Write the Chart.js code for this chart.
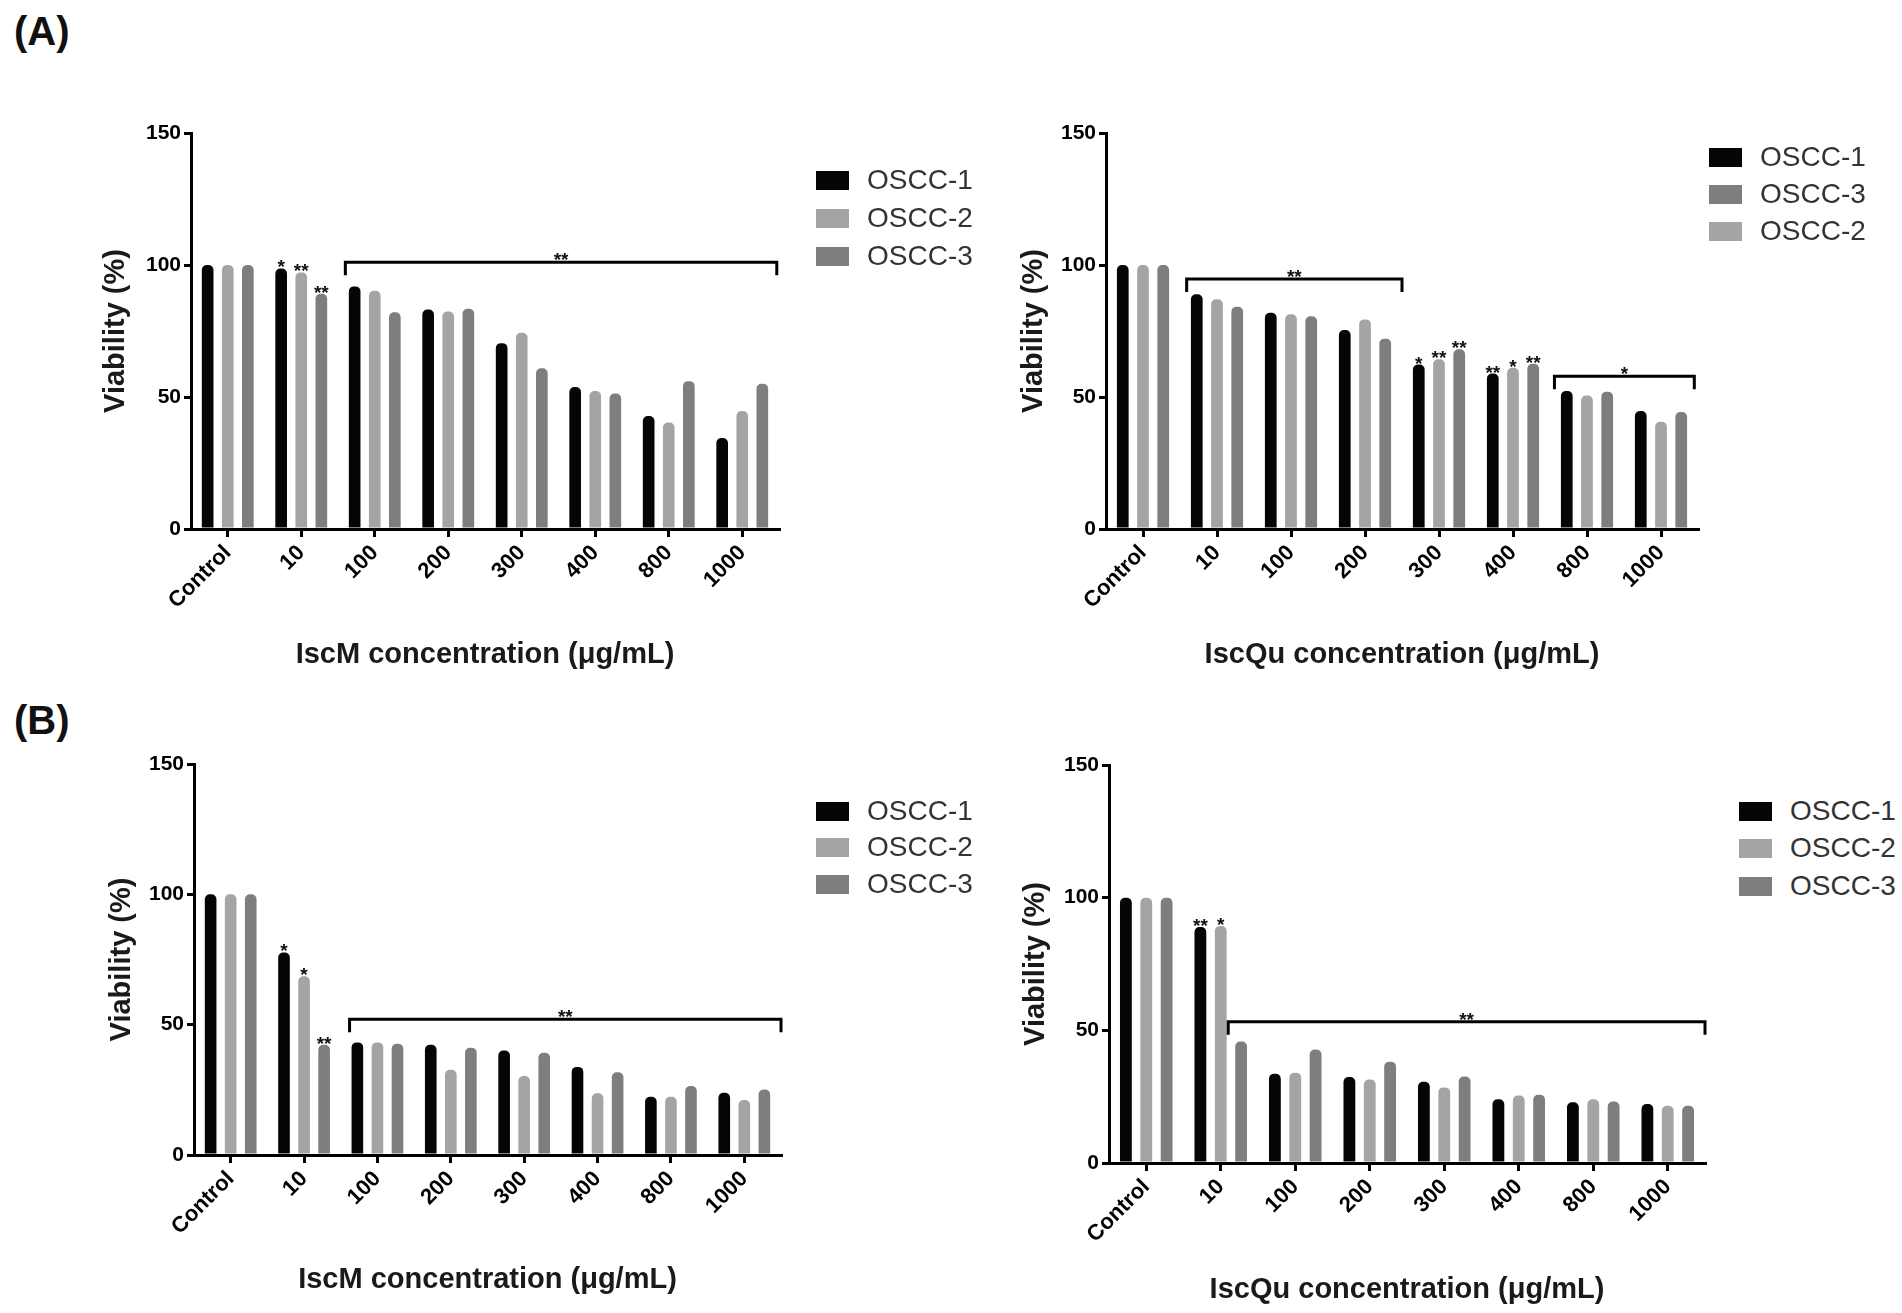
<!DOCTYPE html>
<html>
<head>
<meta charset="utf-8">
<title>Viability of OSCC cells</title>
<script src="https://cdn.jsdelivr.net/npm/chart.js@4.4.1/dist/chart.umd.min.js"></script>
<style>
  body { margin: 0; background: #fff; }
  #page { position: relative; width: 1902px; height: 1313px; overflow: hidden; background: #fff;
          font-family: "Liberation Sans", Arial, sans-serif; }
  canvas { position: absolute; }
  .tag { position: absolute; font-size: 40px; font-weight: bold; line-height: 1; color: #111; }
  .key { position: absolute; height: 30px; display: flex; align-items: center; white-space: nowrap;
         font-size: 28px; color: #333; }
  .key span { display: inline-block; width: 33px; height: 19px; margin-right: 18px; }
</style>
</head>
<body>
<div id="page">
  <div class="tag" style="left:14px; top:11px;">(A)</div>
  <div class="tag" style="left:14px; top:700px;">(B)</div>
  <canvas id="aIscM"></canvas>
  <canvas id="aIscQu"></canvas>
  <canvas id="bIscM"></canvas>
  <canvas id="bIscQu"></canvas>
</div>
<script>
// concentrations (µg/mL) and y ticks
var categories = ['Control', '10', '100', '200', '300', '400', '800', '1000'];
var yTicks = [0, 50, 100, 150];

// (A) IscM
var aIscM1 = [100, 98.7, 91.9, 83.1, 70.4, 53.8, 42.8, 34.5];
var aIscM2 = [100, 97.2, 90.2, 82.4, 74.3, 52.3, 40.3, 44.7];
var aIscM3 = [100, 89.1, 82.1, 83.4, 60.9, 51.3, 56.0, 55.0];
// (A) IscQu
var aIscQu1 = [100, 88.9, 81.9, 75.4, 62.3, 58.9, 52.3, 44.7];
var aIscQu2 = [100, 87.0, 81.3, 79.4, 64.3, 61.1, 50.6, 40.6];
var aIscQu3 = [100, 84.2, 80.6, 72.1, 68.1, 62.6, 52.0, 44.3];
// (B) IscM
var bIscM1 = [100, 77.7, 43.2, 42.3, 40.1, 33.8, 22.3, 23.9];
var bIscM2 = [100, 68.6, 43.2, 32.7, 30.3, 23.7, 22.3, 21.1];
var bIscM3 = [100, 42.3, 42.7, 41.1, 39.2, 31.7, 26.5, 25.1];
// (B) IscQu
var bIscQu1 = [100, 88.9, 33.6, 32.4, 30.6, 24.0, 22.9, 22.2];
var bIscQu2 = [100, 89.3, 34.0, 31.5, 28.5, 25.4, 24.0, 21.6];
var bIscQu3 = [100, 45.8, 42.8, 38.2, 32.6, 25.7, 23.2, 21.6];

// significance marks: [category index, series index, text]
var aIscMStars = [[1, 0, '*'], [1, 1, '**'], [1, 2, '**']];
var aIscQuStars = [[4, 0, '*'], [4, 1, '**'], [4, 2, '**'], [5, 0, '**'], [5, 1, '*'], [5, 2, '**']];
var bIscMStars = [[1, 0, '*'], [1, 1, '*'], [1, 2, '**']];
var bIscQuStars = [[1, 0, '**'], [1, 1, '*']];
// brackets: [from index, to index, level (%), text]
var aIscMBrackets = [[1.6, 7.47, 101, '**']];
var aIscQuBrackets = [[0.59, 3.5, 94.7, '**'], [5.56, 7.45, 57.9, '*']];
var bIscMBrackets = [[1.62, 7.5, 52.1, '**']];
var bIscQuBrackets = [[1.1, 7.5, 53.2, '**']];

var FONT = '"Liberation Sans", Arial, sans-serif';
var colors = { 'OSCC-1': '#050505', 'OSCC-2': '#a4a4a4', 'OSCC-3': '#7e7e7e' };

var sigMarks = {
  id: 'sigMarks',
  afterDatasetsDraw: function (chart, args, opts) {
    var ctx = chart.ctx, x = chart.scales.x, y = chart.scales.y;
    ctx.save();
    ctx.fillStyle = '#111';
    ctx.strokeStyle = '#000';
    ctx.lineWidth = 3;
    ctx.font = 'bold 19px ' + FONT;
    ctx.textAlign = 'center';
    ctx.textBaseline = 'alphabetic';
    (opts.stars || []).forEach(function (s) {
      var bar = chart.getDatasetMeta(s[1]).data[s[0]];
      ctx.fillText(s[2], bar.x, bar.y + 5);
    });
    (opts.brackets || []).forEach(function (b) {
      var x1 = x.getPixelForValue(b[0]), x2 = x.getPixelForValue(b[1]);
      var yl = y.getPixelForValue(b[2]);
      ctx.beginPath();
      ctx.moveTo(x1, yl + 13);
      ctx.lineTo(x1, yl);
      ctx.lineTo(x2, yl);
      ctx.lineTo(x2, yl + 13);
      ctx.stroke();
      ctx.fillText(b[3], (x1 + x2) / 2, yl + 4);
    });
    ctx.restore();
  }
};

function buildPanel(p) {
  var titleSize = 29, lh = titleSize * 1.2;
  var padLeft = p.yTitleX - p.box.left - lh / 2;
  var yWidth = p.area.left - p.box.left - padLeft;
  var padTop = p.area.top - p.box.top;
  var padRight = p.box.left + p.box.width - p.area.right;
  var padBottom = p.box.height - (p.xTitleY - p.box.top) - lh / 2;
  var xHeight = p.box.height - padBottom - (p.area.bottom - p.box.top);

  var cv = document.getElementById(p.id);
  cv.width = p.box.width;
  cv.height = p.box.height;
  cv.style.left = p.box.left + 'px';
  cv.style.top = p.box.top + 'px';

  var datasets = p.series.map(function (s) {
    return {
      label: s.label,
      data: s.data,
      backgroundColor: colors[s.label],
      borderWidth: 0,
      borderRadius: { topLeft: 5, topRight: 5 },
      borderSkipped: 'start',
      categoryPercentage: 0.82,
      barPercentage: 0.58
    };
  });

  new Chart(cv.getContext('2d'), {
    type: 'bar',
    data: { labels: categories, datasets: datasets },
    plugins: [sigMarks],
    options: {
      responsive: false,
      animation: false,
      devicePixelRatio: 1,
      layout: { padding: { left: padLeft, right: padRight, top: padTop, bottom: padBottom } },
      plugins: {
        legend: { display: false },
        tooltip: { enabled: false },
        sigMarks: { stars: p.stars, brackets: p.brackets }
      },
      scales: {
        x: {
          offset: true,
          grid: { offset: false, drawOnChartArea: false, drawTicks: true, tickLength: 8, color: '#000', lineWidth: 3 },
          border: { color: '#000', width: 3 },
          ticks: { color: '#000', autoSkip: false, minRotation: 45, maxRotation: 45, padding: 3,
                   font: { family: FONT, size: 22, weight: 'bold' } },
          title: { display: true, text: p.xTitle, color: '#1a1a1a', padding: 0,
                   font: { family: FONT, size: titleSize, weight: 'bold' } },
          afterFit: function (s) { s.height = xHeight; }
        },
        y: {
          min: 0,
          max: 150,
          afterBuildTicks: function (s) { s.ticks = yTicks.map(function (v) { return { value: v }; }); },
          grid: { drawOnChartArea: false, drawTicks: true, tickLength: 7, color: '#000', lineWidth: 3 },
          border: { color: '#000', width: 3 },
          ticks: { color: '#000', padding: 3, font: { family: FONT, size: 21, weight: 'bold' } },
          title: { display: true, text: 'Viability (%)', color: '#1a1a1a', padding: 0,
                   font: { family: FONT, size: titleSize, weight: 'bold' } },
          afterFit: function (s) { s.width = yWidth; }
        }
      }
    }
  });

  // legend
  var page = document.getElementById('page');
  p.legendOrder.forEach(function (k, i) {
    var s = p.series[k];
    var row = document.createElement('div');
    row.className = 'key';
    row.style.left = p.legend.left + 'px';
    row.style.top = (p.legend.rows[i] - 15) + 'px';
    var sw = document.createElement('span');
    sw.style.background = colors[s.label];
    row.appendChild(sw);
    row.appendChild(document.createTextNode(s.label));
    page.appendChild(row);
  });
}

var panels = [
  {
    id: 'aIscM', xTitle: 'IscM concentration (\u03bcg/mL)',
    box: { left: 0, top: 60, width: 800, height: 640 },
    area: { left: 191, top: 133, right: 779, bottom: 529 },
    yTitleX: 116, xTitleY: 655,
    series: [{ label: 'OSCC-1', data: aIscM1 }, { label: 'OSCC-2', data: aIscM2 }, { label: 'OSCC-3', data: aIscM3 }],
    legendOrder: [0, 1, 2], legend: { left: 816, rows: [180, 218, 256] },
    stars: aIscMStars, brackets: aIscMBrackets
  },
  {
    id: 'aIscQu', xTitle: 'IscQu concentration (\u03bcg/mL)',
    box: { left: 960, top: 60, width: 760, height: 640 },
    area: { left: 1106, top: 133, right: 1698, bottom: 529 },
    yTitleX: 1034, xTitleY: 655,
    series: [{ label: 'OSCC-1', data: aIscQu1 }, { label: 'OSCC-2', data: aIscQu2 }, { label: 'OSCC-3', data: aIscQu3 }],
    legendOrder: [0, 2, 1], legend: { left: 1709, rows: [157, 194, 231] },
    stars: aIscQuStars, brackets: aIscQuBrackets
  },
  {
    id: 'bIscM', xTitle: 'IscM concentration (\u03bcg/mL)',
    box: { left: 0, top: 690, width: 800, height: 623 },
    area: { left: 194, top: 764, right: 781, bottom: 1155 },
    yTitleX: 122, xTitleY: 1280,
    series: [{ label: 'OSCC-1', data: bIscM1 }, { label: 'OSCC-2', data: bIscM2 }, { label: 'OSCC-3', data: bIscM3 }],
    legendOrder: [0, 1, 2], legend: { left: 816, rows: [811, 847, 884] },
    stars: bIscMStars, brackets: bIscMBrackets
  },
  {
    id: 'bIscQu', xTitle: 'IscQu concentration (\u03bcg/mL)',
    box: { left: 960, top: 690, width: 760, height: 623 },
    area: { left: 1109, top: 765, right: 1705, bottom: 1163 },
    yTitleX: 1036, xTitleY: 1290,
    series: [{ label: 'OSCC-1', data: bIscQu1 }, { label: 'OSCC-2', data: bIscQu2 }, { label: 'OSCC-3', data: bIscQu3 }],
    legendOrder: [0, 1, 2], legend: { left: 1739, rows: [811, 848, 886] },
    stars: bIscQuStars, brackets: bIscQuBrackets
  }
];

panels.forEach(buildPanel);
</script>
</body>
</html>
